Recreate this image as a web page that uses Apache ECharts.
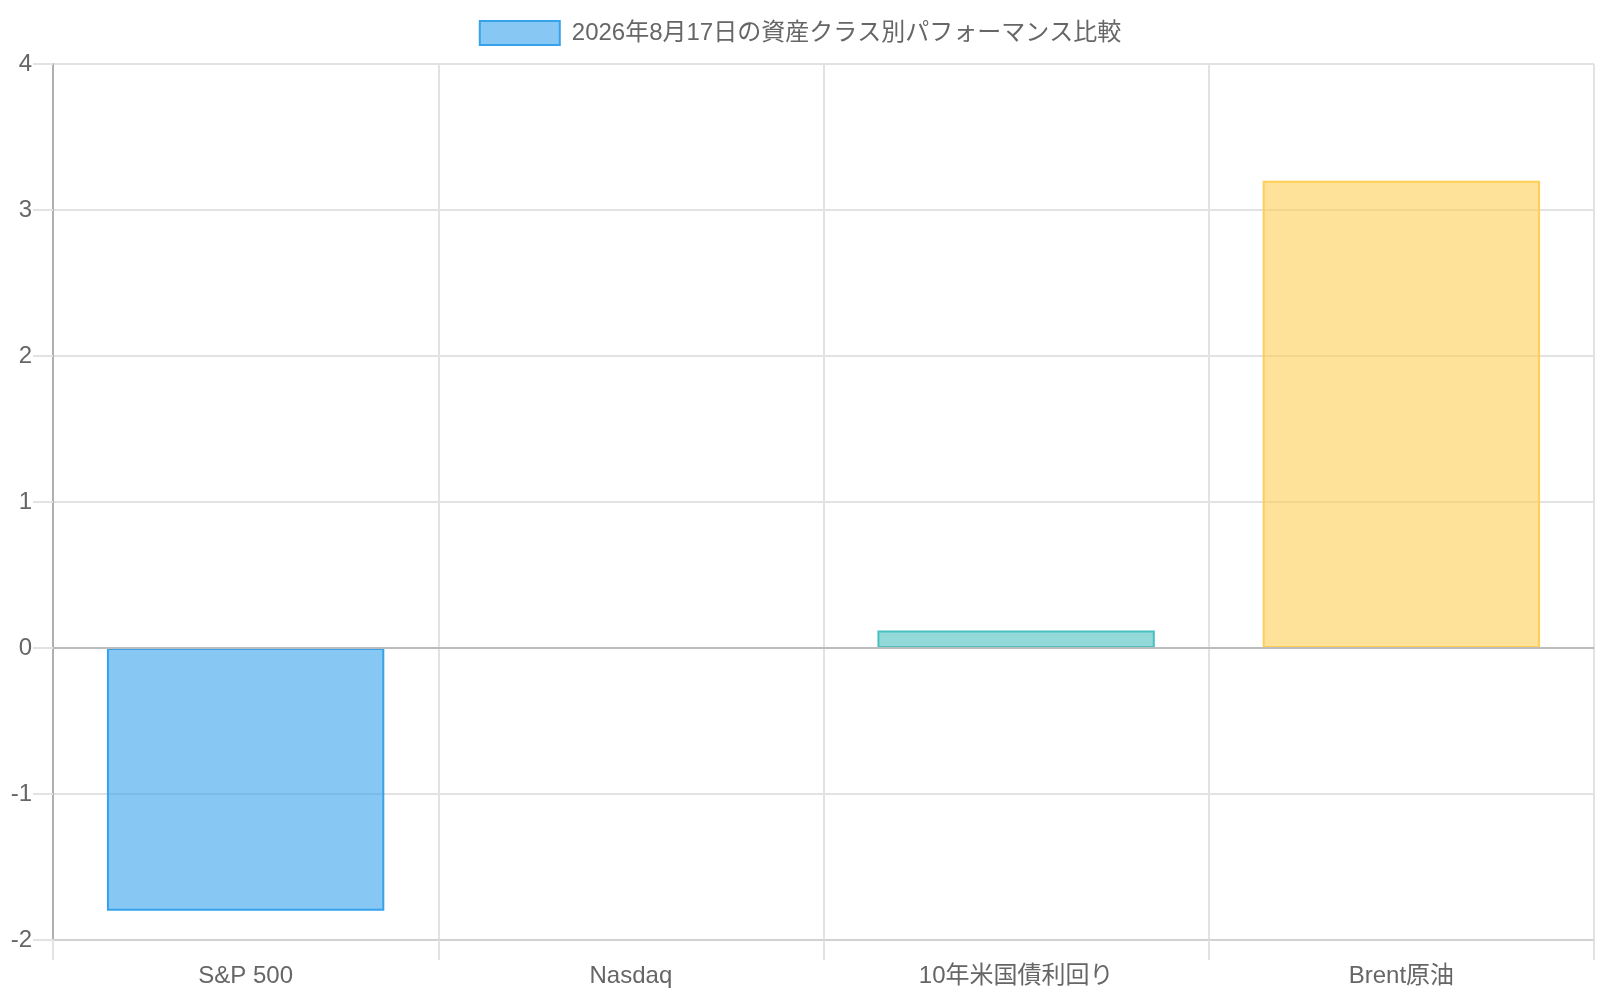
<!DOCTYPE html>
<html>
<head>
<meta charset="utf-8">
<script src="https://cdn.jsdelivr.net/npm/echarts@6/dist/echarts.min.js"></script>
<style>html,body{margin:0;padding:0;background:#fff}#c{width:1600px;height:1000px}</style>
</head>
<body>
<div id="c"></div>
<script>
const seriesName = '2026年8月17日の資産クラス別パフォーマンス比較';
const categories = ['S&P 500', 'Nasdaq', '10年米国債利回り', 'Brent原油'];
const values = [-1.8, 0, 0.12, 3.2];
const fillColors = ['rgba(54,162,235,0.6)', 'rgba(255,99,132,0.6)', 'rgba(75,192,192,0.6)', 'rgba(255,206,86,0.6)'];
const borderColors = ['rgb(54,162,235)', 'rgb(255,99,132)', 'rgb(75,192,192)', 'rgb(255,206,86)'];

const FONT = "'Liberation Sans', 'Noto Sans CJK JP', sans-serif";
const chart = echarts.init(document.getElementById('c'), null, { renderer: 'canvas' });
chart.setOption({
  animation: false,
  backgroundColor: '#fff',
  textStyle: { fontFamily: FONT },
  legend: {
    top: 15,
    left: 'center',
    icon: 'rect',
    itemWidth: 80,
    itemHeight: 24,
    itemStyle: { color: fillColors[0], borderColor: borderColors[0], borderWidth: 2 },
    textStyle: { fontSize: 24, color: '#666', fontFamily: FONT, padding: [0, 0, 0, 7] },
    data: [seriesName]
  },
  grid: { left: 53, right: 6, top: 64, bottom: 60, containLabel: false },
  xAxis: {
    type: 'category',
    data: categories,
    axisLine: { show: true, onZero: false, lineStyle: { color: '#d2d2d2', width: 2 } },
    axisTick: { show: true, length: 20, alignWithLabel: false, lineStyle: { color: '#e2e2e2', width: 2 } },
    splitLine: { show: true, lineStyle: { color: '#e2e2e2', width: 2 } },
    axisLabel: { fontSize: 24, color: '#666', margin: 24, fontFamily: FONT }
  },
  yAxis: {
    type: 'value',
    min: -2,
    max: 4,
    interval: 1,
    axisLine: { show: true, lineStyle: { color: '#b0b0b0', width: 2 } },
    axisTick: { show: true, length: 20, lineStyle: { color: '#e2e2e2', width: 2 } },
    splitLine: { show: true, lineStyle: { color: '#e2e2e2', width: 2 } },
    axisLabel: { fontSize: 24, color: '#666', margin: 21, fontFamily: FONT }
  },
  series: [{
    name: seriesName,
    type: 'bar',
    barWidth: '72%',
    itemStyle: { color: fillColors[0], borderColor: borderColors[0], borderWidth: 2 },
    data: values.map((v, i) => ({
      value: v,
      itemStyle: { color: fillColors[i], borderColor: borderColors[i], borderWidth: 2 }
    })),
    markLine: {
      silent: true,
      symbol: 'none',
      label: { show: false },
      lineStyle: { color: '#bcbcbc', width: 2, type: 'solid' },
      data: [{ yAxis: 0 }]
    }
  }]
});
</script>
</body>
</html>
